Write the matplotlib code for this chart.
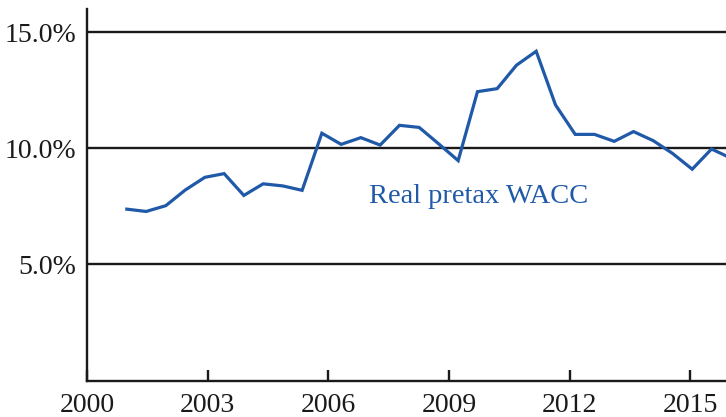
import matplotlib
matplotlib.use("Agg")
import matplotlib.pyplot as plt
from matplotlib.ticker import FuncFormatter

# Data: decimal years and real pretax WACC (%)
years = [2000.99, 2001.47, 2001.96, 2002.44, 2002.93, 2003.41, 2003.90, 2004.38,
         2004.87, 2005.35, 2005.84, 2006.32, 2006.81, 2007.29, 2007.77, 2008.26,
         2008.74, 2009.23, 2009.71, 2010.20, 2010.68, 2011.17, 2011.65, 2012.14,
         2012.62, 2013.11, 2013.59, 2014.08, 2014.56, 2015.05, 2015.53, 2016.02]
wacc = [7.38, 7.28, 7.53, 8.20, 8.75, 8.91, 7.97, 8.47,
        8.38, 8.19, 10.65, 10.17, 10.46, 10.14, 10.99, 10.90,
        10.20, 9.47, 12.44, 12.57, 13.58, 14.18, 11.87, 10.60,
        10.60, 10.30, 10.72, 10.33, 9.78, 9.10, 9.97, 9.57]
xticks = [2000, 2003, 2006, 2009, 2012, 2015]
yticks = [5, 10, 15]
series_label = "Real pretax WACC"

blue = "#1f59a8"
plt.rcParams['font.family'] = ['Liberation Serif', 'DejaVu Serif']

fig = plt.figure(figsize=(7.26, 4.17), dpi=100)
ax = fig.add_axes([87 / 726, (417 - 380.5) / 417, (726 - 87) / 726, 371.5 / 417])

for y in yticks:
    ax.axhline(y, color="#1a1a1a", lw=1.7, zorder=1)

ax.plot(years, wacc, color=blue, lw=2.3, zorder=3, solid_joinstyle='miter')

ax.set_xlim(2000, 2015.89)
ax.set_ylim(0, 16)
ax.set_xticks(xticks)
ax.set_yticks(yticks)
ax.yaxis.set_major_formatter(FuncFormatter(lambda v, p: f"{v:.1f}%"))

for s in ["top", "right"]:
    ax.spines[s].set_visible(False)
for s in ["left", "bottom"]:
    ax.spines[s].set_linewidth(1.7)
    ax.spines[s].set_color("#1a1a1a")

ax.tick_params(axis="x", direction="in", length=8, width=1.7, pad=9,
               labelsize=20, colors="#1a1a1a")
ax.tick_params(axis="y", direction="in", length=0, width=1.7, pad=8,
               labelsize=20, colors="#1a1a1a")

ax.text(2007.02, 7.65, series_label, color=blue, fontsize=20.5, ha="left", va="baseline")

fig.savefig("out.png", dpi=100)
